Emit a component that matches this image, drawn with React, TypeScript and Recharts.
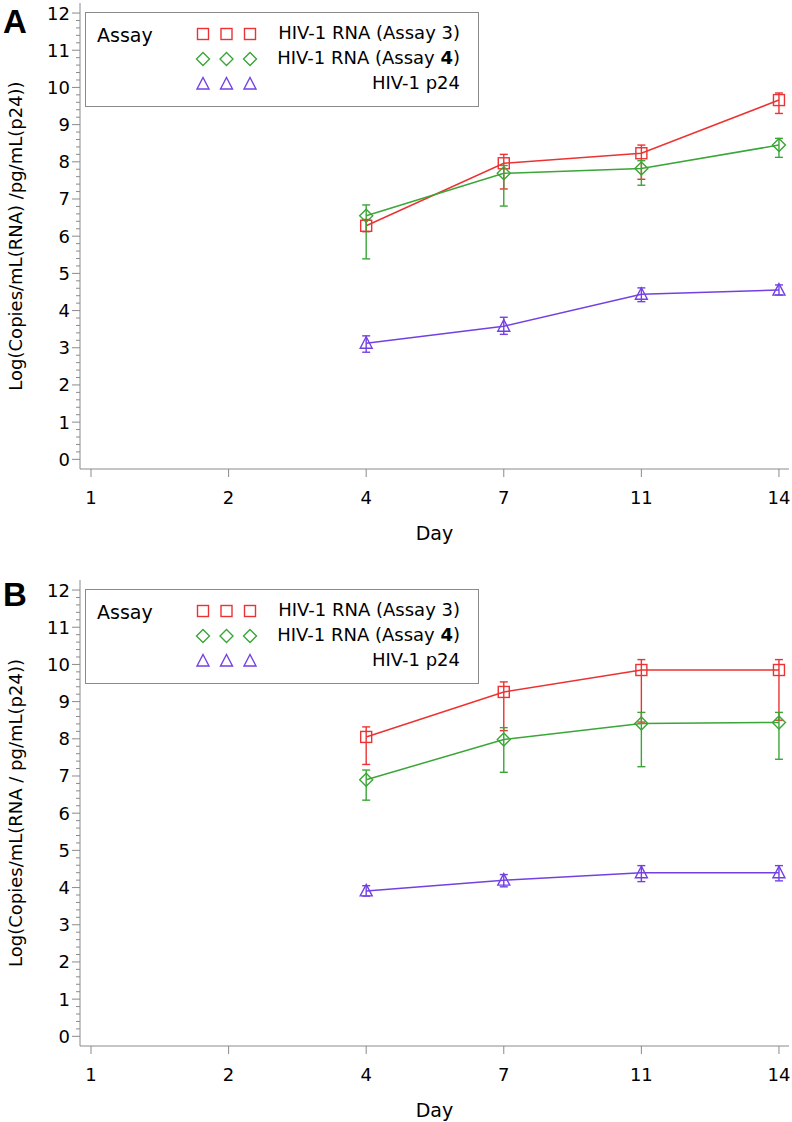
import { LineChart, Line, XAxis, YAxis, ErrorBar, Legend } from "recharts";

// x categories (equally spaced, SAS discrete axis)
const days = ["1", "2", "4", "7", "11", "14"];
// indexes into `days` where samples exist (days 4, 7, 11, 14)
const sampleIdx = [2, 3, 4, 5];

// Panel A
const aAssay3 = [6.28, 7.96, 8.23, 9.66];
const aAssay3Low = [6.12, 7.27, 7.53, 9.3];
const aAssay3High = [6.45, 8.2, 8.45, 9.85];
const aAssay4 = [6.55, 7.69, 7.82, 8.45];
const aAssay4Low = [5.39, 6.81, 7.37, 8.12];
const aAssay4High = [6.84, 7.9, 8.03, 8.63];
const aP24 = [3.12, 3.58, 4.44, 4.55];
const aP24Low = [2.88, 3.36, 4.24, 4.42];
const aP24High = [3.32, 3.82, 4.61, 4.69];

// Panel B
const bAssay3 = [8.05, 9.26, 9.85, 9.85];
const bAssay3Low = [7.31, 8.22, 8.45, 8.5];
const bAssay3High = [8.32, 9.53, 10.13, 10.13];
const bAssay4 = [6.9, 7.98, 8.41, 8.44];
const bAssay4Low = [6.35, 7.1, 7.25, 7.45];
const bAssay4High = [7.16, 8.3, 8.71, 8.71];
const bP24 = [3.91, 4.2, 4.4, 4.4];
const bP24Low = [3.77, 4.02, 4.16, 4.18];
const bP24High = [4.05, 4.35, 4.59, 4.59];

const yTicks = Array.from({ length: 61 }, (_, i) => Math.round(i * 2) / 10);

const RED = "#ec3232";
const GREEN = "#3aa637";
const PURPLE = "#7341e3";
const AXIS = "#8a8a8a";
const FONT = "'DejaVu Sans', 'Noto Sans', sans-serif";

type Shape = "square" | "diamond" | "triangle";

function buildRows(
  v3: number[], l3: number[], h3: number[],
  v4: number[], l4: number[], h4: number[],
  vp: number[], lp: number[], hp: number[]
) {
  return sampleIdx.map((x, i) => ({
    x,
    a3: v3[i],
    a3Err: [v3[i] - l3[i], h3[i] - v3[i]],
    a4: v4[i],
    a4Err: [v4[i] - l4[i], h4[i] - v4[i]],
    p24: vp[i],
    p24Err: [vp[i] - lp[i], hp[i] - vp[i]],
  }));
}

function MarkerPath({ cx, cy, shape, color }: { cx: number; cy: number; shape: Shape; color: string }) {
  if (shape === "square") {
    return <rect x={cx - 5.5} y={cy - 5.5} width={11} height={11} fill="none" stroke={color} strokeWidth={1.4} />;
  }
  if (shape === "diamond") {
    return (
      <path
        d={`M${cx},${cy - 6.5} L${cx + 6.5},${cy} L${cx},${cy + 6.5} L${cx - 6.5},${cy} Z`}
        fill="none"
        stroke={color}
        strokeWidth={1.4}
      />
    );
  }
  return (
    <path
      d={`M${cx},${cy - 6.5} L${cx + 6},${cy + 5} L${cx - 6},${cy + 5} Z`}
      fill="none"
      stroke={color}
      strokeWidth={1.4}
    />
  );
}

const legendItems: { shape: Shape; color: string; label: React.ReactNode }[] = [
  { shape: "square", color: RED, label: "HIV-1 RNA (Assay 3)" },
  { shape: "diamond", color: GREEN, label: <>HIV-1 RNA (Assay <b>4</b>)</> },
  { shape: "triangle", color: PURPLE, label: "HIV-1 p24" },
];

function AssayLegend() {
  return (
    <div
      style={{
        position: "relative",
        width: 392,
        height: 93,
        border: `1px solid ${AXIS}`,
        background: "#fff",
        fontFamily: FONT,
        fontSize: 18,
        color: "#000",
      }}
    >
      <div style={{ position: "absolute", left: 11, top: 11, fontSize: 19 }}>Assay</div>
      {legendItems.map((it, r) => (
        <div key={r}>
          <svg style={{ position: "absolute", left: 108, top: 12 + r * 25 }} width={72} height={18}>
            {[0, 1, 2].map((k) => (
              <MarkerPath key={k} cx={9 + k * 23.5} cy={9} shape={it.shape} color={it.color} />
            ))}
          </svg>
          <div
            style={{
              position: "absolute",
              right: 18,
              top: 8 + r * 25,
              whiteSpace: "nowrap",
              lineHeight: "24px",
            }}
          >
            {it.label}
          </div>
        </div>
      ))}
    </div>
  );
}

function YTick(props: any) {
  const { x, y, payload } = props;
  const v = payload.value as number;
  const major = Math.abs(v - Math.round(v)) < 1e-6;
  return (
    <g>
      <line x1={x + (major ? 2 : 6)} x2={x + 10} y1={y} y2={y} stroke={AXIS} strokeWidth={1} />
      {major && (
        <text x={x} y={y} dy="0.36em" textAnchor="end" fontSize={18} fontFamily={FONT} fill="#000">
          {Math.round(v)}
        </text>
      )}
    </g>
  );
}

type PanelProps = {
  letter: string;
  yLabel: string;
  top: number;
  rows: ReturnType<typeof buildRows>;
};

function Panel({ letter, yLabel, top, rows }: PanelProps) {
  return (
    <div style={{ position: "absolute", left: 0, top, width: 792, height: 545 }}>
      <LineChart width={792} height={545} data={rows} margin={{ top: 3, right: 3, left: 0, bottom: 0 }}>
        <XAxis
          dataKey="x"
          type="number"
          domain={[-0.08, 5.073]}
          ticks={[0, 1, 2, 3, 4, 5]}
          tickFormatter={(v: number) => days[v]}
          interval={0}
          height={76}
          tickSize={8}
          tickMargin={14}
          stroke={AXIS}
          tick={{ fontSize: 18, fontFamily: FONT, fill: "#000" }}
          label={{
            content: (p: any) => (
              <text
                x={p.viewBox.x + p.viewBox.width / 2}
                y={p.viewBox.y + 64}
                textAnchor="middle"
                dominantBaseline="central"
                fontSize={19}
                fontFamily={FONT}
                fill="#000"
              >
                Day
              </text>
            ),
          }}
        />
        <XAxis xAxisId="top" orientation="top" type="number" domain={[-0.08, 5.073]} height={0} tick={false} tickLine={false} stroke={AXIS} />
        <YAxis
          type="number"
          domain={[-0.26, 12.27]}
          ticks={yTicks}
          interval={0}
          width={80}
          tickSize={8}
          tickMargin={2}
          tickLine={false}
          stroke={AXIS}
          tick={<YTick />}
          label={{
            content: (p: any) => {
              const cx = p.viewBox.x + 15;
              const cy = p.viewBox.y + p.viewBox.height / 2;
              return (
                <text
                  x={cx}
                  y={cy}
                  transform={`rotate(-90 ${cx} ${cy})`}
                  textAnchor="middle"
                  dominantBaseline="central"
                  fontSize={18}
                  fontFamily={FONT}
                  fill="#000"
                >
                  {yLabel}
                </text>
              );
            },
          }}
        />
        <YAxis yAxisId="right" orientation="right" type="number" domain={[-0.26, 12.27]} width={0} tick={false} tickLine={false} stroke={AXIS} />
        <Legend
          layout="vertical"
          verticalAlign="middle"
          align="center"
          content={() => <AssayLegend />}
          wrapperStyle={{ position: "absolute", left: 85, top: 12, width: "auto", height: "auto" }}
        />
        <Line
          dataKey="a3"
          type="linear"
          stroke={RED}
          strokeWidth={1.5}
          isAnimationActive={false}
          dot={(p: any) => <MarkerPath key={`a3-${p.index}`} cx={p.cx} cy={p.cy} shape="square" color={RED} />}
        >
          <ErrorBar dataKey="a3Err" direction="y" width={4} stroke={RED} strokeWidth={1.4} isAnimationActive={false} />
        </Line>
        <Line
          dataKey="a4"
          type="linear"
          stroke={GREEN}
          strokeWidth={1.5}
          isAnimationActive={false}
          dot={(p: any) => <MarkerPath key={`a4-${p.index}`} cx={p.cx} cy={p.cy} shape="diamond" color={GREEN} />}
        >
          <ErrorBar dataKey="a4Err" direction="y" width={4} stroke={GREEN} strokeWidth={1.4} isAnimationActive={false} />
        </Line>
        <Line
          dataKey="p24"
          type="linear"
          stroke={PURPLE}
          strokeWidth={1.5}
          isAnimationActive={false}
          dot={(p: any) => <MarkerPath key={`p24-${p.index}`} cx={p.cx} cy={p.cy} shape="triangle" color={PURPLE} />}
        >
          <ErrorBar dataKey="p24Err" direction="y" width={4} stroke={PURPLE} strokeWidth={1.4} isAnimationActive={false} />
        </Line>
      </LineChart>
      <div
        style={{
          position: "absolute",
          left: 3,
          top: letter === "A" ? 4 : 0,
          fontFamily: "'Liberation Sans', Arial, sans-serif",
          fontWeight: "bold",
          fontSize: 33,
          lineHeight: "36px",
          color: "#000",
        }}
      >
        {letter}
      </div>
    </div>
  );
}

export default function App() {
  const rowsA = buildRows(aAssay3, aAssay3Low, aAssay3High, aAssay4, aAssay4Low, aAssay4High, aP24, aP24Low, aP24High);
  const rowsB = buildRows(bAssay3, bAssay3Low, bAssay3High, bAssay4, bAssay4Low, bAssay4High, bP24, bP24Low, bP24High);
  return (
    <div style={{ position: "absolute", left: 0, top: 0, width: 792, height: 1122, background: "#fff" }}>
      <Panel letter="A" yLabel="Log(Copies/mL(RNA) /pg/mL(p24))" top={0} rows={rowsA} />
      <Panel letter="B" yLabel="Log(Copies/mL(RNA / pg/mL(p24))" top={577} rows={rowsB} />
    </div>
  );
}
